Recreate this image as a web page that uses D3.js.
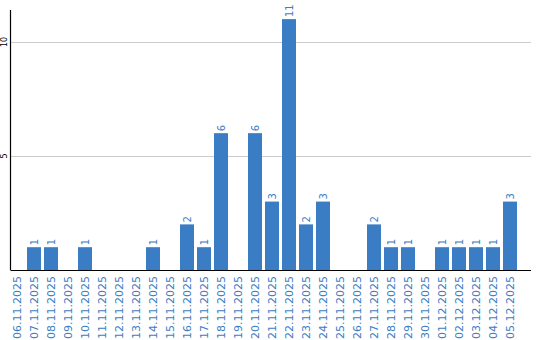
<!doctype html>
<html>
  <head>
    <style>
      body { margin: 0; background: #fff; }
    </style>
  </head>
  <body>
    <svg id='chart0'></svg>

    <script src='https://d3js.org/d3.v7.min.js'></script>
    <script>
      // one entry per day
      const days = ['06.11.2025', '07.11.2025', '08.11.2025', '09.11.2025', '10.11.2025',
                    '11.11.2025', '12.11.2025', '13.11.2025', '14.11.2025', '15.11.2025',
                    '16.11.2025', '17.11.2025', '18.11.2025', '19.11.2025', '20.11.2025',
                    '21.11.2025', '22.11.2025', '23.11.2025', '24.11.2025', '25.11.2025',
                    '26.11.2025', '27.11.2025', '28.11.2025', '29.11.2025', '30.11.2025',
                    '01.12.2025', '02.12.2025', '03.12.2025', '04.12.2025', '05.12.2025'];
      const counts = [0, 1, 1, 0, 1, 0, 0, 0, 1, 0, 2, 1, 6, 0, 6, 3, 11, 2, 3, 0,
                      0, 2, 1, 1, 0, 1, 1, 1, 1, 3];
      const y_ticks = [5, 10];

      const width = 540;
      const height = 340;
      const margin = ({top: 10, right: 9, bottom: 70, left: 10.5});
      const blue = '#3b7dc4';

      const svg = d3.select('svg#chart0')
                    .attr('width', width)
                    .attr('height', height)
                    .style('font-family', 'DejaVu Sans');

      const x = d3.scaleBand()
                  .domain(days)
                  .range([8.5, 518.5])
                  .paddingInner(3 / 17)
                  .paddingOuter(3 / 34);

      const y = d3.scaleLinear()
                  .domain([0, 11.4])
                  .range([height - margin.bottom, margin.top]);

      // gridlines
      svg.append('g')
         .selectAll('line')
         .data(y_ticks)
         .join('line')
         .attr('x1', margin.left)
         .attr('x2', width - margin.right)
         .attr('y1', d => Math.round(y(d)) + 0.5)
         .attr('y2', d => Math.round(y(d)) + 0.5)
         .attr('stroke', '#cccccc');

      svg.append('g')
         .selectAll('text')
         .data(y_ticks)
         .join('text')
         .attr('transform', d => `translate(7,${y(d)}) rotate(-90)`)
         .attr('text-anchor', 'middle')
         .attr('font-size', 8)
         .attr('fill', '#000')
         .text(d => d);

      const data = days.map((d, i) => [d, counts[i]]);

      svg.append('g')
         .selectAll('rect')
         .data(data.filter(d => d[1] > 0))
         .join('rect')
         .attr('x', d => x(d[0]))
         .attr('y', d => y(d[1]))
         .attr('width', x.bandwidth())
         .attr('height', d => y(0) - y(d[1]))
         .attr('fill', blue);

      svg.append('g')
         .selectAll('text')
         .data(data.filter(d => d[1] > 0))
         .join('text')
         .attr('transform', d => `translate(${x(d[0]) + x.bandwidth() / 2 + 4},${y(d[1]) - 2}) rotate(-90)`)
         .attr('font-size', 10)
         .attr('fill', blue)
         .text(d => d[1]);

      // axes
      svg.append('line')
         .attr('x1', margin.left).attr('x2', margin.left)
         .attr('y1', margin.top).attr('y2', y(0))
         .attr('stroke', '#000')
         .attr('stroke-width', 1.2);
      svg.append('line')
         .attr('x1', margin.left).attr('x2', width - margin.right)
         .attr('y1', y(0) + 0.5).attr('y2', y(0) + 0.5)
         .attr('stroke', '#000')
         .attr('stroke-width', 1.2);

      svg.append('g')
         .selectAll('text')
         .data(days)
         .join('text')
         .attr('transform', d => `translate(${x(d) + x.bandwidth() / 2 + 4},${y(0) + 6}) rotate(-90)`)
         .attr('text-anchor', 'end')
         .attr('font-size', 11)
         .attr('fill', blue)
         .text(d => d);
    </script>
  </body>
</html>
